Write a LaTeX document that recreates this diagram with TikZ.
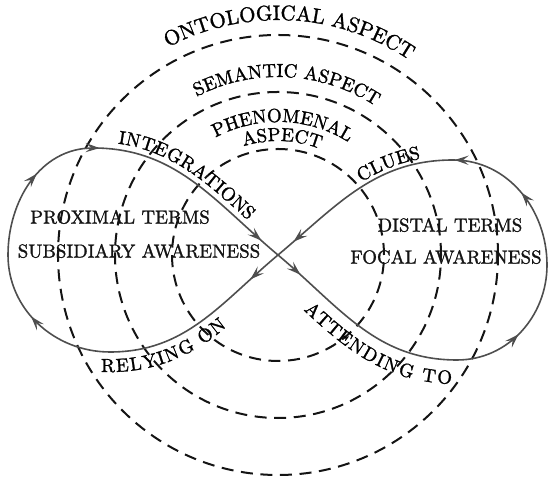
\documentclass[tikz,border=0pt]{standalone}
\usepackage{fontspec}
\usepackage{tikz}
\usetikzlibrary{arrows.meta, decorations.markings, decorations.text}
\newfontfamily\labelfamily{lmroman10-regular.otf}[FakeBold=1.3]
\definecolor{ink}{HTML}{141414}
\definecolor{loopgrey}{HTML}{4E4E4E}
\newcommand\ringfont{\labelfamily\fontsize{9.5}{11}\selectfont}
\newcommand\bigringfont{\labelfamily\fontsize{10.5}{12}\selectfont}
\tikzset{
  aspect/.style   = {draw=ink, line width=1bp, dash pattern=on 6bp off 3.8bp},
  loopline/.style = {draw=loopgrey, line width=0.8bp, line cap=round},
  tip at/.style   = {postaction={decorate, decoration={markings,
                     mark=at position #1 with {\arrow[loopgrey]{Stealth[length=7bp, width=4.6bp, inset=2.8bp]}}}}},
  term/.style     = {font=\ringfont, text=ink, inner sep=0pt},
  ring text/.style = {decoration={text along path, text align=center, text={#1}}, decorate},
}

\begin{document}
\begin{tikzpicture}[x=0.5bp, y=0.5bp]
  \useasboundingbox (0,0) rectangle (549,477);

  \coordinate (mid)  at (278,222);
  \coordinate (rlow) at (457,117);
  \coordinate (rext) at (547,212);
  \coordinate (rtop) at (453,317);
  \coordinate (llow) at (110,125);
  \coordinate (lext) at (8,222);
  \coordinate (ltop) at (93,329);

  % the three aspects
  \draw[aspect] (mid) circle[radius=53bp];
  \draw[aspect] (mid) circle[radius=81.5bp];
  \draw[aspect] (mid) circle[radius=110bp];

  \path[ring text={|\bigringfont|ONTOLOGICAL ASPECT}] ([shift={(150:235)}]mid) arc[start angle=150, end angle=24, radius=235];
  \path[ring text={|\ringfont|SEMANTIC ASPECT}] ([shift={(150:178)}]mid) arc[start angle=150, end angle=24, radius=178];
  \path[ring text={|\ringfont|PHENOMENAL}] ([shift={(148:133)}]mid) arc[start angle=148, end angle=28, radius=133];
  \path[ring text={|\ringfont|ASPECT}] ([shift={(148:114)}]mid) arc[start angle=148, end angle=28, radius=114];

  % figure eight
  \draw[loopline, tip at=0.14] (mid) to[out=-40, in=180] (rlow);
  \draw[loopline, tip at=0.47] (rlow) to[out=0, in=-90] (rext);
  \draw[loopline, tip at=0.5, tip at=0.99] (rext) to[out=90, in=0] (rtop);
  \draw[loopline, tip at=0.9] (rtop) to[out=180, in=40] (mid);
  \draw[loopline, tip at=0.185] (mid) to[out=220, in=0] (llow);
  \draw[loopline, tip at=0.57] (llow) to[out=180, in=-90] (lext);
  \draw[loopline, tip at=0.58] (lext) to[out=90, in=180] (ltop);
  \draw[loopline, tip at=0.03, tip at=0.9] (ltop) to[out=0, in=140] (mid);

  \path[decorate, decoration={text along path, text={|\ringfont|INTEGRATIONS}, raise=3bp, text align={left indent=12bp}}]
    (ltop) to[out=0, in=140] (mid);
  \path[decorate, decoration={text along path, text={|\ringfont|CLUES}, raise=2bp, text align={left indent=55bp}}]
    (mid) to[out=40, in=180] (rtop);
  \path[decorate, decoration={text along path, text={|\ringfont|RELYING ON}, raise=-10bp, text align={left indent=8bp}}]
    (85,125) -- (llow) to[out=0, in=220] (mid);
  \path[decorate, decoration={text along path, text={|\ringfont|ATTENDING TO}, raise=-12bp, text align={left indent=28bp}}]
    (mid) to[out=-40, in=180] (rlow);

  \node[term] (proxterm) at (120,260) {PROXIMAL TERMS};
  \node[term] (subaware) at (139,226) {SUBSIDIARY AWARENESS};
  \node[term] (distterm) at (450,252) {DISTAL TERMS};
  \node[term] (focaware) at (446,220) {FOCAL AWARENESS};
\end{tikzpicture}
\end{document}
